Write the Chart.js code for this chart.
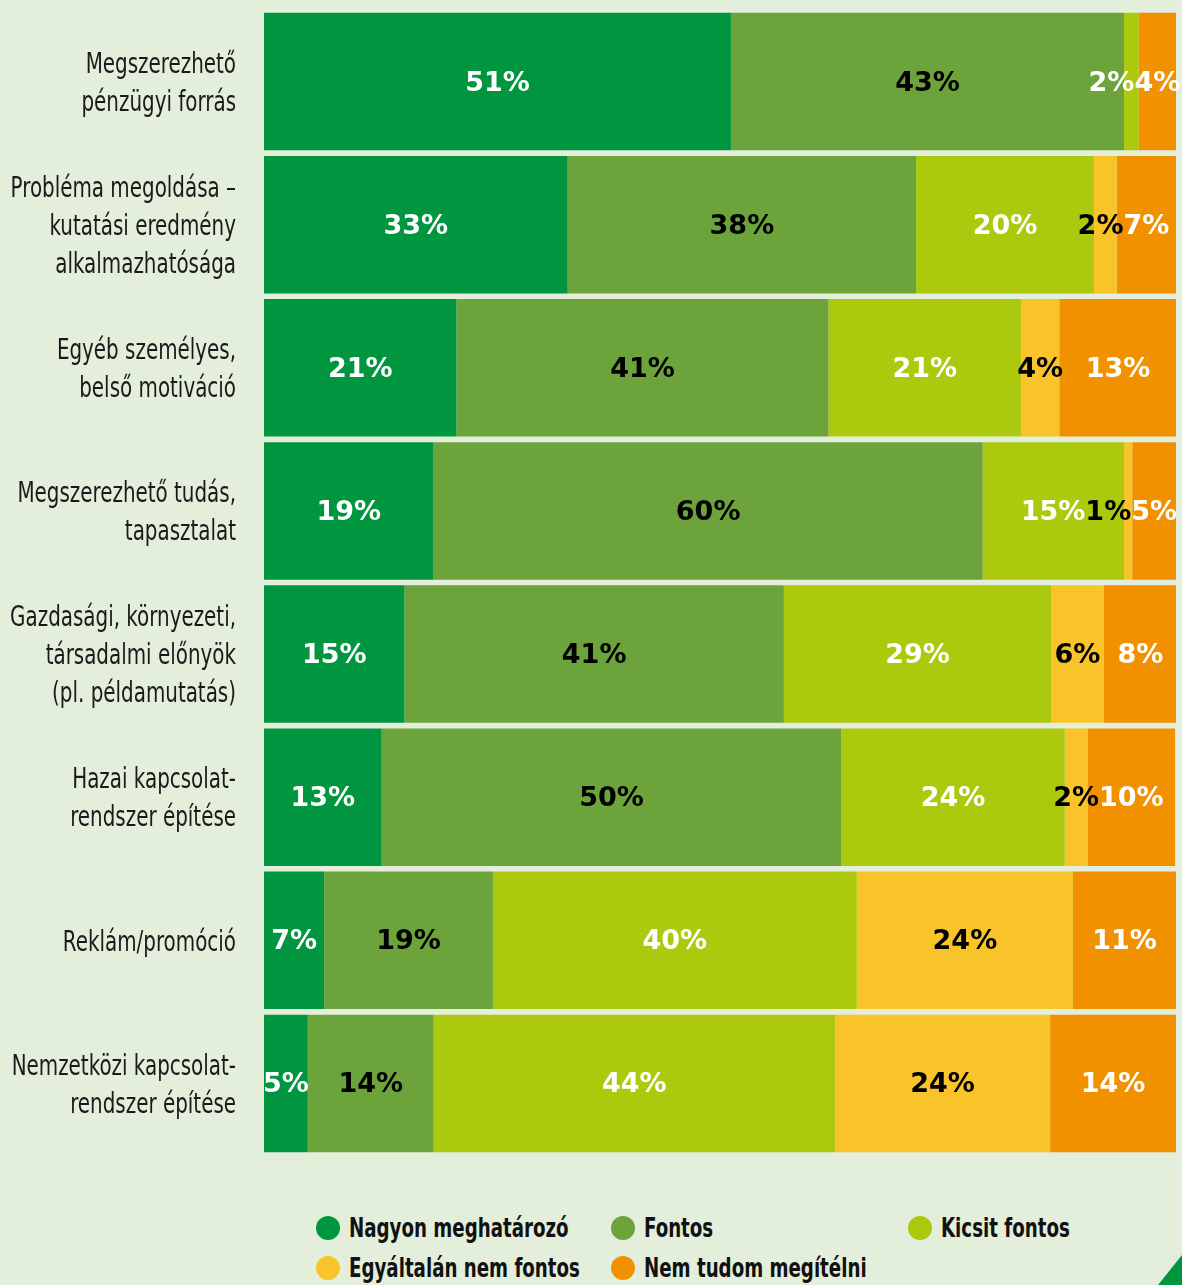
<!DOCTYPE html>
<html>
<head>
<meta charset="utf-8">
<script src="https://cdn.jsdelivr.net/npm/chart.js@4.4.1/dist/chart.umd.min.js"></script>
<style>
  html, body { margin: 0; padding: 0; background: #e3eedb; }
  #wrap { position: relative; width: 1182px; height: 1285px; overflow: hidden; }
  #chart { position: absolute; left: 0; top: 0; }
  #legend { position: absolute; left: 316px; top: 1212px; width: 860px; }
  .item { position: absolute; display: flex; align-items: center; white-space: nowrap; }
  .dot { width: 24px; height: 24px; border-radius: 50%; margin-right: 9px; flex: none; }
  .txt { display: inline-block; transform: scaleX(0.75); transform-origin: left center;
         font: bold 27px 'DejaVu Sans Condensed', 'DejaVu Sans', sans-serif; color: #111; }
  #corner { position: absolute; right: 0; bottom: 0; width: 24px; height: 30px; background: #00963f;
            clip-path: polygon(100% 0, 100% 100%, 0 100%); }
</style>
</head>
<body>
<div id="wrap">
  <canvas id="chart" width="1182" height="1158"></canvas>
  <div id="legend"></div>
  <div id="corner"></div>
</div>
<script>
// categories (y axis)
const categories = [
  ['Megszerezhető', 'pénzügyi forrás'],
  ['Probléma megoldása –', 'kutatási eredmény', 'alkalmazhatósága'],
  ['Egyéb személyes,', 'belső motiváció'],
  ['Megszerezhető tudás,', 'tapasztalat'],
  ['Gazdasági, környezeti,', 'társadalmi előnyök', '(pl. példamutatás)'],
  ['Hazai kapcsolat-', 'rendszer építése'],
  ['Reklám/promóció'],
  ['Nemzetközi kapcsolat-', 'rendszer építése']
];

const seriesNames = ['Nagyon meghatározó', 'Fontos', 'Kicsit fontos', 'Egyáltalán nem fontos', 'Nem tudom megítélni'];
const seriesColors = ['#00963f', '#6ca33a', '#adc90e', '#f8c42a', '#f29100'];
const labelColors = ['#ffffff', '#000000', '#ffffff', '#000000', '#ffffff'];

// segment shares
const nagyon     = [51.2, 33.3, 21.1, 18.6, 15.4, 12.9, 6.6, 4.8];
const fontos     = [43.1, 38.2, 40.8, 60.2, 41.6, 50.4, 18.5, 13.8];
const kicsit     = [1.6, 19.5, 21.1, 15.5, 29.3, 24.5, 39.9, 44.0];
const egyaltalan = [0, 2.5, 4.2, 0.9, 5.8, 2.5, 23.7, 23.6];
const nemtudom   = [4.1, 6.5, 12.9, 4.8, 8.0, 9.6, 11.3, 13.8];

// printed percentages
const nagyonLbl     = [51, 33, 21, 19, 15, 13, 7, 5];
const fontosLbl     = [43, 38, 41, 60, 41, 50, 19, 14];
const kicsitLbl     = [2, 20, 21, 15, 29, 24, 40, 44];
const egyaltalanLbl = [null, 2, 4, 1, 6, 2, 24, 24];
const nemtudomLbl   = [4, 7, 13, 5, 8, 10, 11, 14];

const values = [nagyon, fontos, kicsit, egyaltalan, nemtudom];
const printed = [nagyonLbl, fontosLbl, kicsitLbl, egyaltalanLbl, nemtudomLbl];

// condensed category names, placed on the y scale's tick positions
const catLabels = {
  id: 'catLabels',
  afterDraw(chart) {
    const ctx = chart.ctx;
    const y = chart.scales.y;
    ctx.save();
    ctx.font = "28px 'DejaVu Sans Condensed', 'DejaVu Sans', sans-serif";
    ctx.fillStyle = '#1a1a1a';
    ctx.textAlign = 'right';
    ctx.textBaseline = 'middle';
    categories.forEach((lines, i) => {
      const mid = y.getPixelForTick(i) + 3;
      lines.forEach((line, j) => {
        ctx.save();
        ctx.translate(236, mid + (j - (lines.length - 1) / 2) * 38);
        ctx.scale(0.79, 1);
        ctx.fillText(line, 0, 0);
        ctx.restore();
      });
    });
    ctx.restore();
  }
};

// draws the percentages inside the bars, nudging small ones apart
const barLabels = {
  id: 'barLabels',
  afterDatasetsDraw(chart) {
    const ctx = chart.ctx;
    ctx.save();
    ctx.font = 'bold 27px "DejaVu Sans", Verdana, sans-serif';
    ctx.textBaseline = 'middle';
    ctx.textAlign = 'center';
    for (let row = 0; row < categories.length; row++) {
      const items = [];
      chart.data.datasets.forEach((ds, di) => {
        const v = printed[di][row];
        if (v == null) return;
        const el = chart.getDatasetMeta(di).data[row];
        const text = v + '%';
        const w = ctx.measureText(text).width;
        items.push({ text, w, x: (el.x + el.base) / 2, y: el.y, color: labelColors[di] });
      });
      const last = items[items.length - 1];
      if (last.x + last.w / 2 > chart.width) last.x = chart.width - last.w / 2;
      for (let i = items.length - 2; i >= 0; i--) {
        const next = items[i + 1];
        const right = items[i].x + items[i].w / 2;
        const limit = next.x - next.w / 2;
        if (right > limit) items[i].x -= right - limit;
      }
      items.forEach(it => {
        ctx.fillStyle = it.color;
        ctx.fillText(it.text, it.x, it.y + 2);
      });
    }
    ctx.restore();
  }
};

new Chart(document.getElementById('chart'), {
  type: 'bar',
  data: {
    labels: categories.map(c => c.join(' ')),
    datasets: seriesNames.map((name, i) => ({
      label: name,
      data: values[i],
      backgroundColor: seriesColors[i],
      borderWidth: 0,
      barPercentage: 0.96,
      categoryPercentage: 1
    }))
  },
  options: {
    indexAxis: 'y',
    responsive: false,
    animation: false,
    devicePixelRatio: 1,
    layout: { padding: { top: 10, bottom: 3, right: 6, left: 0 } },
    plugins: { legend: { display: false }, tooltip: { enabled: false } },
    scales: {
      x: { stacked: true, min: 0, max: 100, display: false },
      y: {
        stacked: true,
        grid: { display: false },
        border: { display: false },
        ticks: { display: false },
        afterFit(scale) {
          scale.width = 264;
          scale.paddingTop = 0;
          scale.paddingBottom = 0;
        }
      }
    }
  },
  plugins: [barLabels, catLabels]
});

// legend built from the series
const legendPos = [[0, 0], [295, 0], [592, 0], [0, 40], [295, 40]];
const legend = document.getElementById('legend');
seriesNames.forEach((name, i) => {
  const d = document.createElement('div');
  d.className = 'item';
  d.style.left = legendPos[i][0] + 'px';
  d.style.top = legendPos[i][1] + 'px';
  d.innerHTML = '<span class="dot" style="background:' + seriesColors[i] + '"></span><span class="txt">' + name + '</span>';
  legend.appendChild(d);
});
</script>
</body>
</html>
